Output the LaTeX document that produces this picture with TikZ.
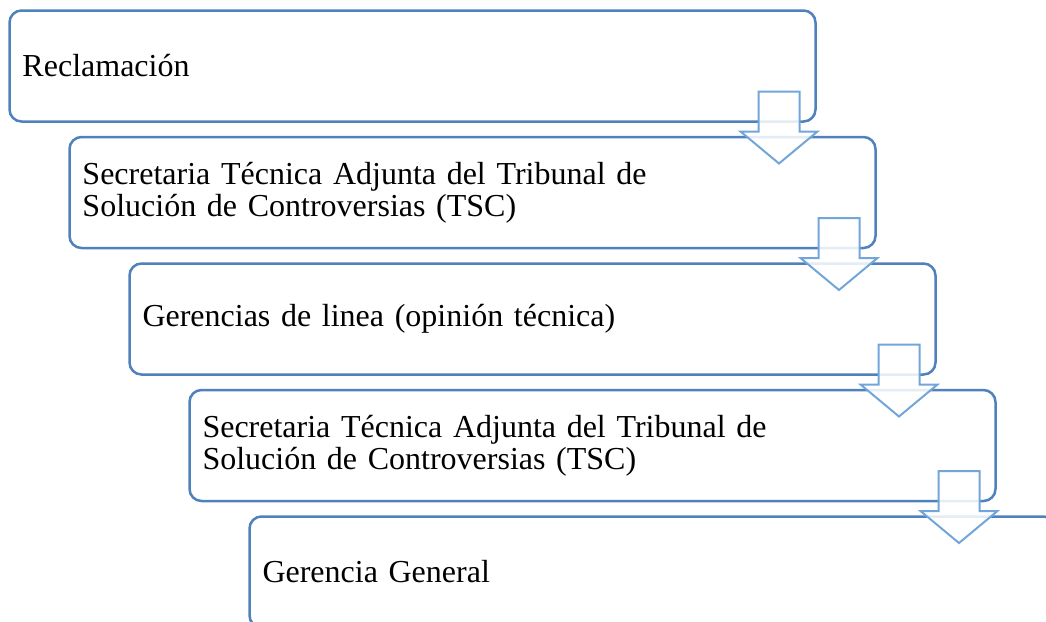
\documentclass[tikz,border=0pt]{standalone}
\usepackage{fontspec}
\setmainfont{Liberation Serif}
\usetikzlibrary{positioning}
\definecolor{boxblue}{RGB}{79,129,189}
\definecolor{arrowblue}{RGB}{114,166,218}
\newcommand\boxfont{\fontsize{16}{16}\selectfont\fontdimen2\font=3pt\relax}
\begin{document}
\begin{tikzpicture}[step box/.style = {draw=boxblue, line width=1.25pt, rounded corners=6pt, fill=white,
    minimum height=55.5pt, text width=390pt, inner xsep=6.5pt, outer sep=0pt, align=left,
    font=\boxfont},
  down arrow/.style = {draw=arrowblue, line width=1pt, fill=white, fill opacity=0.85}]
    \useasboundingbox (0,0) rectangle (523pt,-311pt);
    \clip (0,0) rectangle (523pt,-311pt);
    \node[step box, anchor=north west] (rec) at (4.75pt,-5.25pt) {Reclamaci\'on};
    \node[step box, below=7.75pt of rec.south west, anchor=north west, xshift=30pt] (tsc1) {Secretaria T\'ecnica Adjunta del Tribunal de\\Soluci\'on de Controversias (TSC)};
    \node[step box, below=7.75pt of tsc1.south west, anchor=north west, xshift=30pt] (ger) {Gerencias de linea (opini\'on t\'ecnica)};
    \node[step box, below=7.75pt of ger.south west, anchor=north west, xshift=30pt] (tsc2) {Secretaria T\'ecnica Adjunta del Tribunal de\\Soluci\'on de Controversias (TSC)};
    \node[step box, below=7.75pt of tsc2.south west, anchor=north west, xshift=30pt] (gg) {Gerencia General};
    % flechas
    \draw[down arrow] (rec.south east) ++(-28.5pt,15pt) -- ++(20.5pt,0) -- ++(0,-20pt) -- ++(9pt,0) -- ++(-19.25pt,-16pt) -- ++(-19.25pt,16pt) -- ++(9pt,0) -- cycle;
    \draw[down arrow] (tsc1.south east) ++(-28.5pt,15pt) -- ++(20.5pt,0) -- ++(0,-20pt) -- ++(9pt,0) -- ++(-19.25pt,-16pt) -- ++(-19.25pt,16pt) -- ++(9pt,0) -- cycle;
    \draw[down arrow] (ger.south east) ++(-28.5pt,15pt) -- ++(20.5pt,0) -- ++(0,-20pt) -- ++(9pt,0) -- ++(-19.25pt,-16pt) -- ++(-19.25pt,16pt) -- ++(9pt,0) -- cycle;
    \draw[down arrow] (tsc2.south east) ++(-28.5pt,15pt) -- ++(20.5pt,0) -- ++(0,-20pt) -- ++(9pt,0) -- ++(-19.25pt,-16pt) -- ++(-19.25pt,16pt) -- ++(9pt,0) -- cycle;
\end{tikzpicture}
\end{document}
